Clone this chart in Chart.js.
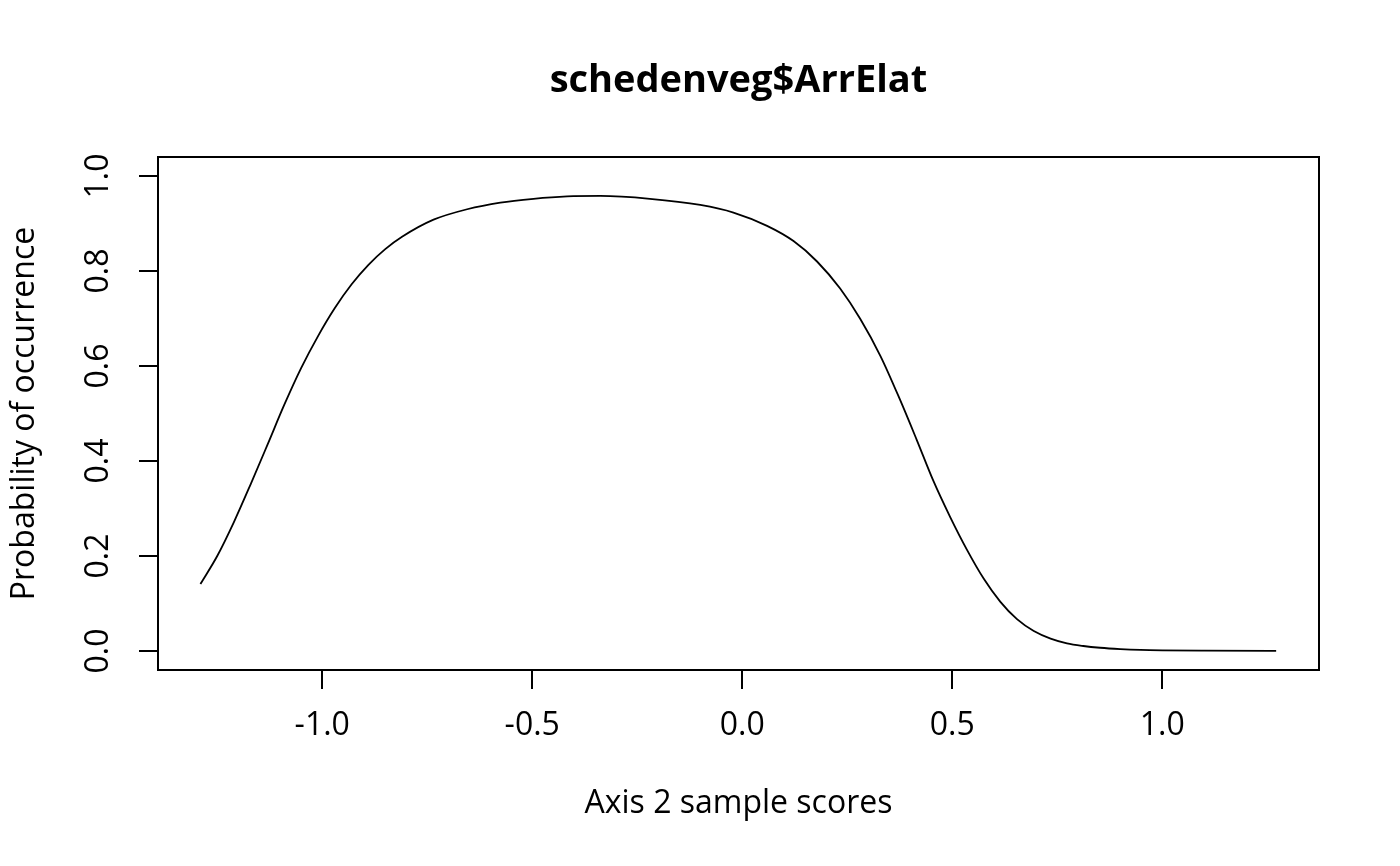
<!DOCTYPE html>
<html>
<head>
<meta charset="utf-8">
<script src="https://cdn.jsdelivr.net/npm/chart.js@4"></script>
<style>
  html, body { margin: 0; padding: 0; background: #fff; }
  #chart { display: block; }
</style>
</head>
<body>
<canvas id="chart" width="1400" height="866"></canvas>
<script>
  // values
  const scores = [-1.290, -1.250, -1.210, -1.170, -1.130, -1.090, -1.050, -1.010, -0.970, -0.930,
    -0.890, -0.850, -0.810, -0.735, -0.655, -0.576, -0.497, -0.417, -0.338, -0.220, -0.100, -0.021,
    0.059, 0.122, 0.178, 0.233, 0.281, 0.329, 0.376, 0.416, 0.455, 0.495, 0.535, 0.575, 0.614,
    0.654, 0.694, 0.734, 0.773, 0.812, 0.852, 0.900, 0.948, 1.000, 1.100, 1.271];
  const probability = [0.141, 0.200, 0.272, 0.352, 0.435, 0.519, 0.596, 0.663, 0.722, 0.772,
    0.813, 0.846, 0.872, 0.908, 0.930, 0.944, 0.952, 0.957, 0.958, 0.952, 0.939, 0.923,
    0.895, 0.863, 0.820, 0.763, 0.699, 0.621, 0.528, 0.443, 0.358, 0.282, 0.213, 0.152, 0.104,
    0.067, 0.042, 0.026, 0.016, 0.0105, 0.0068, 0.0040, 0.0022, 0.0013, 0.0006, 0.0002];
  const xTicks = [-1.0, -0.5, 0.0, 0.5, 1.0];
  const yTicks = [0.0, 0.2, 0.4, 0.6, 0.8, 1.0];
  const mainTitle = 'schedenveg$ArrElat';

  const FONT = "'Open Sans', 'Noto Sans', sans-serif";

  // R style: full box round the plot, title over the plot region, y tick labels turned sideways
  const boxPlugin = {
    id: 'box',
    afterDraw(chart) {
      const { ctx, chartArea: a } = chart;
      const y = chart.scales.y;
      ctx.save();
      ctx.strokeStyle = '#000';
      ctx.lineWidth = 2;
      ctx.strokeRect(a.left, a.top, a.right - a.left, a.bottom - a.top);
      ctx.fillStyle = '#000';
      ctx.textAlign = 'center';
      ctx.textBaseline = 'middle';
      ctx.font = 'bold 38px ' + FONT;
      ctx.fillText(mainTitle, (a.left + a.right) / 2, 81);
      ctx.font = '32px ' + FONT;
      yTicks.forEach(v => {
        ctx.save();
        ctx.translate(a.left - 59, y.getPixelForValue(v));
        ctx.rotate(-Math.PI / 2);
        ctx.fillText(v.toFixed(1), 0, 0);
        ctx.restore();
      });
      ctx.restore();
    }
  };

  new Chart(document.getElementById('chart'), {
    type: 'scatter',
    data: {
      datasets: [{
        data: scores.map((x, i) => ({ x, y: probability[i] })),
        showLine: true,
        borderColor: '#000',
        borderWidth: 1.8,
        pointRadius: 0,
        cubicInterpolationMode: 'monotone',
        fill: false
      }]
    },
    options: {
      responsive: false,
      animation: false,
      devicePixelRatio: 1,
      layout: { padding: { left: 0, right: 81, top: 157, bottom: 0 } },
      plugins: {
        legend: { display: false },
        tooltip: { enabled: false },
        title: { display: false }
      },
      scales: {
        x: {
          type: 'linear',
          min: -1.391,
          max: 1.373,
          afterBuildTicks: s => { s.ticks = xTicks.map(v => ({ value: v })); },
          afterFit: s => { s.height = 196; },
          grid: { display: true, drawOnChartArea: false, drawTicks: true, tickLength: 19, color: '#000', lineWidth: 2 },
          border: { display: true, color: '#000', width: 2 },
          ticks: {
            color: '#000',
            font: { family: FONT, size: 32 },
            padding: 18,
            maxRotation: 0,
            callback: v => v.toFixed(1)
          },
          title: {
            display: true,
            text: 'Axis 2 sample scores',
            color: '#000',
            font: { family: FONT, size: 32, lineHeight: 1.2 },
            padding: { top: 0, bottom: 43 }
          }
        },
        y: {
          type: 'linear',
          min: -0.04,
          max: 1.04,
          afterBuildTicks: s => { s.ticks = yTicks.map(v => ({ value: v })); },
          afterFit: s => { s.width = 158; },
          grid: { display: true, drawOnChartArea: false, drawTicks: true, tickLength: 19, color: '#000', lineWidth: 2 },
          border: { display: true, color: '#000', width: 2 },
          ticks: { display: false },
          title: {
            display: true,
            text: 'Probability of occurrence',
            color: '#000',
            font: { family: FONT, size: 32, lineHeight: 1.2 },
            padding: { top: 6, bottom: 0 }
          }
        }
      }
    },
    plugins: [boxPlugin]
  });
</script>
</body>
</html>
